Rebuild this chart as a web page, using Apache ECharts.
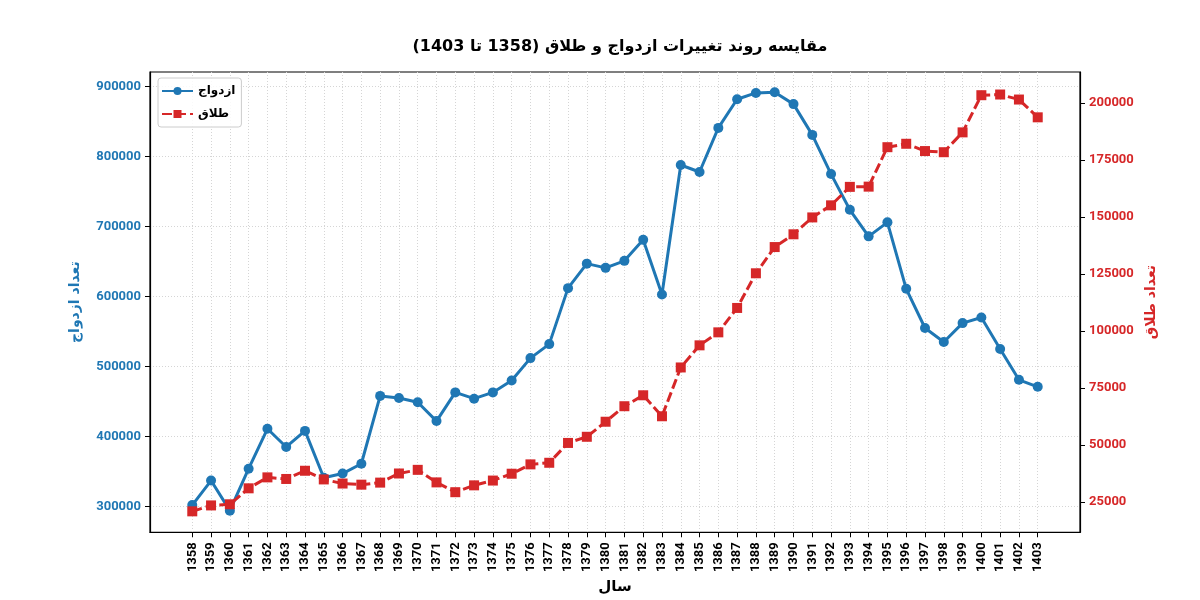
<!DOCTYPE html>
<html>
<head>
<meta charset="utf-8">
<script src="https://cdn.jsdelivr.net/npm/echarts@6/dist/echarts.min.js"></script>
<style>
  html, body { margin: 0; padding: 0; background: #fff; }
  #main { width: 1200px; height: 600px; }
</style>
</head>
<body>
<div id="main"></div>
<script>
  // سال‌ها
  var years = [1358, 1359, 1360, 1361, 1362, 1363, 1364, 1365, 1366, 1367, 1368, 1369, 1370, 1371, 1372, 1373,
    1374, 1375, 1376, 1377, 1378, 1379, 1380, 1381, 1382, 1383, 1384, 1385, 1386, 1387, 1388, 1389,
    1390, 1391, 1392, 1393, 1394, 1395, 1396, 1397, 1398, 1399, 1400, 1401, 1402, 1403];
  // ازدواج
  var marriage = [302000, 337000, 294000, 354000, 411000, 385000, 408000, 341000, 347000, 361000, 458000, 455000,
    449000, 422000, 463000, 454000, 463000, 480000, 512000, 532000, 612000, 647000, 641000, 651000, 681000,
    603000, 788000, 778000, 841000, 882000, 891000, 892000, 875000, 831000, 775000, 724000, 686000, 706000,
    611000, 555000, 535000, 562000, 570000, 525000, 481000, 471000];
  // طلاق
  var divorce = [21000, 23600, 24100, 31100, 35900, 35200, 38800, 35000, 33200, 32700, 33600, 37600,
    39200, 33700, 29400, 32400, 34500, 37500, 41600, 42300, 51000, 53700, 60300, 67100, 71900,
    62700, 84100, 93800, 99500, 110200, 125400, 136900, 142500, 149900, 155200, 163300, 163400, 180700,
    182200, 179000, 178500, 187200, 203500, 203800, 201600, 193800];
  var leftTicks = [300000, 400000, 500000, 600000, 700000, 800000, 900000];
  var rightTicks = [25000, 50000, 75000, 100000, 125000, 150000, 175000, 200000];

  var blue = '#1f77b4', red = '#d62728';
  var numFont = 'Roboto, "DejaVu Sans", sans-serif';
  var faFont = '"DejaVu Sans", "Noto Sans", sans-serif';

  function pairs(vals) {
    var out = [];
    for (var i = 0; i < years.length; i++) {
      out.push([years[i], vals[i]]);
    }
    return out;
  }

  var chart = echarts.init(document.getElementById('main'), null, { renderer: 'canvas' });
  chart.setOption({
    animation: false,
    backgroundColor: '#fff',
    title: {
      text: 'مقایسه روند تغییرات ازدواج و طلاق (1358 تا 1403)',
      left: 615,
      textAlign: 'center',
      top: 34,
      textStyle: { fontFamily: faFont, fontSize: 16, fontWeight: 'bold', color: '#000' }
    },
    legend: {
      left: 158,
      top: 78,
      orient: 'vertical',
      itemWidth: 31,
      itemHeight: 10,
      itemGap: 11,
      padding: [7, 6, 7, 3],
      borderColor: '#ccc',
      borderWidth: 1,
      borderRadius: 3,
      backgroundColor: 'rgba(255,255,255,0.85)',
      textStyle: { fontFamily: faFont, fontSize: 12, fontWeight: 'bold', color: '#000' },
      data: ['ازدواج', 'طلاق']
    },
    grid: {
      left: 150, right: 120, top: 72, bottom: 65,
      show: true, borderColor: '#000', borderWidth: 1.2, backgroundColor: 'transparent'
    },
    xAxis: {
      type: 'value',
      min: 1355.75,
      max: 1405.25,
      name: 'سال',
      nameLocation: 'middle',
      nameGap: 46,
      nameTextStyle: { fontFamily: faFont, fontSize: 15, fontWeight: 'bold', color: '#000' },
      axisLine: { show: true, lineStyle: { color: '#000', width: 1.2 } },
      axisTick: { show: true, customValues: years, length: 5, lineStyle: { color: '#000' } },
      axisLabel: {
        customValues: years, rotate: 90, margin: 10,
        fontFamily: numFont, fontSize: 13, fontWeight: 'bold', color: '#000',
        formatter: function (v) { return String(v); }
      },
      splitLine: { show: true, customValues: years, lineStyle: { color: '#d5d5d5', type: [1, 2] } }
    },
    yAxis: [
      {
        type: 'value',
        min: 263100,
        max: 920900,
        position: 'left',
        name: 'تعداد ازدواج',
        nameLocation: 'middle',
        nameGap: 68,
        nameTextStyle: { fontFamily: faFont, fontSize: 14, fontWeight: 'bold', color: blue },
        axisLine: { show: true, lineStyle: { color: '#000', width: 1.2 } },
        axisTick: { show: true, customValues: leftTicks, length: 5, lineStyle: { color: '#000' } },
        axisLabel: {
          customValues: leftTicks, margin: 9,
          fontFamily: numFont, fontSize: 13, fontWeight: 'bold', color: blue,
          formatter: function (v) { return String(v); }
        },
        splitLine: { show: true, customValues: leftTicks, lineStyle: { color: '#d5d5d5', type: [1, 2] } }
      },
      {
        type: 'value',
        min: 11825,
        max: 213675,
        position: 'right',
        name: 'تعداد طلاق',
        nameLocation: 'middle',
        nameGap: 63,
        nameRotate: 90,
        nameTextStyle: { fontFamily: faFont, fontSize: 14, fontWeight: 'bold', color: red },
        axisLine: { show: true, lineStyle: { color: '#000', width: 1.2 } },
        axisTick: { show: true, customValues: rightTicks, length: 5, lineStyle: { color: '#000' } },
        axisLabel: {
          customValues: rightTicks, margin: 9,
          fontFamily: numFont, fontSize: 13, fontWeight: 'bold', color: red,
          formatter: function (v) { return String(v); }
        },
        splitLine: { show: false }
      }
    ],
    series: [
      {
        name: 'ازدواج',
        type: 'line',
        yAxisIndex: 0,
        data: pairs(marriage),
        symbol: 'circle',
        symbolSize: 10,
        z: 3,
        itemStyle: { color: blue },
        lineStyle: { color: blue, width: 3 }
      },
      {
        name: 'طلاق',
        type: 'line',
        yAxisIndex: 1,
        data: pairs(divorce),
        symbol: 'rect',
        symbolSize: 10,
        z: 4,
        itemStyle: { color: red },
        lineStyle: { color: red, width: 3, type: [10, 4] }
      }
    ]
  });
</script>
</body>
</html>
